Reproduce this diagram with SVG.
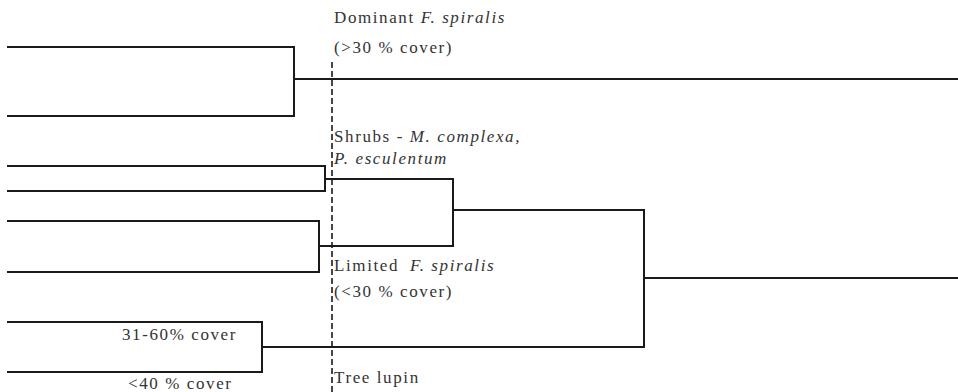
<svg xmlns="http://www.w3.org/2000/svg" width="958" height="392" viewBox="0 0 958 392">
<style>
.ln{stroke:#1a1a1a;stroke-width:2;fill:none;stroke-linecap:square}
.dash{stroke:#1a1a1a;stroke-width:1.6;fill:none;stroke-dasharray:6,3}
text{font-family:"Liberation Serif","Times New Roman",Times,serif;font-size:17px;fill:#333;letter-spacing:1.6px}
.it{font-style:italic}
</style>
<rect width="958" height="392" fill="#fff"/>
<g id="connectors">
<path class="ln" d="M8,47H294V116H8M294,79H958"/>
<path class="ln" d="M8,166H325V191H8M325,179H453"/>
<path class="ln" d="M8,221H319V272H8M319,246H453"/>
<path class="ln" d="M453,179V246M453,210H644V347H262M644,278H958"/>
<path class="ln" d="M8,322H262V372H8"/>
<path class="dash" d="M332,62V392"/>
</g>
<g id="dominant"><text x="334" y="23">Dominant <tspan class="it">F. spiralis</tspan></text><text x="334" y="53">(&gt;30 % cover)</text></g>
<g id="shrubs"><text x="334" y="142">Shrubs - <tspan class="it">M. complexa,</tspan></text><text x="334" y="164" class="it">P. esculentum</text></g>
<g id="limited"><text x="334" y="271">Limited <tspan class="it" dx="5">F. spiralis</tspan></text><text x="334" y="297">(&lt;30 % cover)</text></g>
<g id="treelupin"><text x="334" y="383">Tree lupin</text><text x="122" y="340">31-60% cover</text><text x="128" y="389">&lt;40 % cover</text></g>
</svg>
